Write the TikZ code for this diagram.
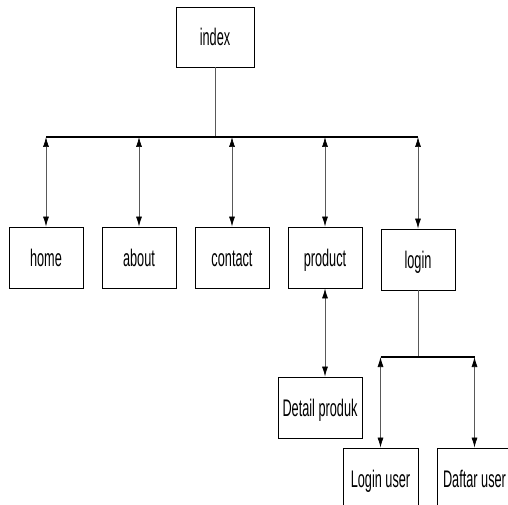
\documentclass[tikz,border=0pt]{standalone}
\usepackage{fontspec}
\setmainfont{Liberation Sans}
\usetikzlibrary{arrows.meta}
\newcommand{\lbl}[1]{\scalebox{0.53}[1]{#1}}
\tikzset{
  pagebox/.style={draw=black, line width=0.9pt, fill=white, minimum width=74pt, minimum height=61pt, inner sep=0pt,
    text height=20pt, text depth=3pt, font=\fontsize{24}{28}\selectfont},
  busline/.style={draw=black, line width=1.2pt},
  dbl/.style={draw=black!65, line width=0.7pt,
    {Latex[length=10pt,width=6pt,color=black]}-{Latex[length=10pt,width=6pt,color=black]}},
  plain/.style={draw=black!65, line width=0.7pt}
}
\begin{document}
\begin{tikzpicture}[x=1pt,y=-1pt]
\useasboundingbox (0,0) rectangle (508,505);
\clip (0,0) rectangle (508,505);
\node[pagebox, minimum width=78pt, minimum height=60pt] (index) at (215,37) {\lbl{index}};
\node[pagebox] (home) at (46,257.5) {\lbl{home}};
\node[pagebox] (about) at (139,257.5) {\lbl{about}};
\node[pagebox] (contact) at (232,257.5) {\lbl{contact}};
\node[pagebox] (product) at (325,257.5) {\lbl{product}};
\node[pagebox] (login) at (418,259.5) {\lbl{login}};
\node[pagebox, minimum width=84pt] (detail) at (320,407.5) {\lbl{Detail produk}};
\node[pagebox, minimum width=75pt] (loginuser) at (380.5,478.5) {\lbl{Login user}};
\node[pagebox, minimum width=75pt] (daftar) at (474.5,478.5) {\lbl{Daftar user}};
\coordinate (bar) at (215,137);
\coordinate (bar2) at (418,357);
\draw[plain] (index.south) -- (bar);
\draw[busline] (home.north |- bar) -- (login.north |- bar);
\foreach \n in {home,about,contact,product,login}
  \draw[dbl] (\n.north |- bar) -- (\n.north);
\draw[dbl] (product.south) -- (product.south |- detail.north);
\draw[plain] (login.south) -- (bar2);
\draw[busline] (loginuser.north |- bar2) -- (daftar.north |- bar2);
\draw[dbl] (loginuser.north |- bar2) -- (loginuser.north);
\draw[dbl] (daftar.north |- bar2) -- (daftar.north);
\end{tikzpicture}
\end{document}
